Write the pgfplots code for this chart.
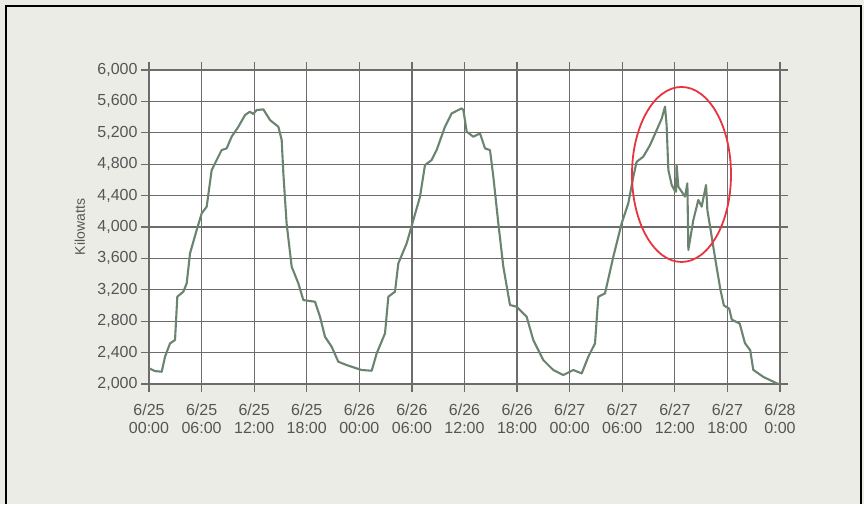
\documentclass[border=0pt]{standalone}
\usepackage{pgfplots}
\pgfplotsset{compat=1.18}
\usepackage{fontspec}
\setmainfont{Liberation Sans}
\definecolor{bg}{RGB}{236,236,231}
\definecolor{gridc}{RGB}{108,108,108}
\definecolor{linec}{RGB}{106,132,112}
\definecolor{txt}{RGB}{85,85,85}
\definecolor{circ}{RGB}{232,52,62}
\begin{document}
\begin{tikzpicture}[x=1bp,y=1bp]
\fill[bg] (0,0) rectangle (864,504);
\draw[black, line width=2.5bp] (6,0) -- (6,498) -- (861,498) -- (861,0);
\begin{axis}[at={(149bp,120bp)}, anchor=south west, scale only axis,
  width=631bp, height=314bp,
  xmin=0, xmax=72, ymin=2000, ymax=6000,
  clip mode=individual,
  xtick={0,6,...,72},
  xticklabels={{6/25\\00:00},{6/25\\06:00},{6/25\\12:00},{6/25\\18:00},{6/26\\00:00},{6/26\\06:00},{6/26\\12:00},{6/26\\18:00},{6/27\\00:00},{6/27\\06:00},{6/27\\12:00},{6/27\\18:00},{6/28\\0:00}},
  ytick={2000,2400,...,6000},
  grid=major,
  major grid style={gridc, line width=1.3bp},
  axis line style={gridc, line width=1.3bp},
  tick style={gridc, line width=1.3bp},
  tick align=outside, major tick length=8bp,
  axis background/.style={fill=white},
  xticklabel style={align=center, yshift=-8bp, font=\fontsize{16bp}{18bp}\selectfont, text=txt},
  yticklabel style={font=\fontsize{16bp}{18bp}\selectfont, text=txt},
  /pgf/number format/1000 sep={,},
  /pgf/number format/assume math mode=true,
]
\addplot[linec, line width=2.1bp, line join=round] coordinates {
(0,2200) (0.68,2165) (1.45,2156) (1.83,2348) (2.4,2517) (2.97,2560) (3.23,3112) (3.92,3176)
(4.3,3282) (4.68,3664) (5.44,3961) (6.01,4173) (6.58,4258) (7.15,4725) (7.53,4810) (8.29,4980)
(8.86,5001) (9.43,5150) (10.2,5277) (10.96,5426) (11.5,5468) (11.9,5440) (12.28,5490) (13.05,5498)
(13.81,5362) (14.76,5277) (15.14,5107) (15.33,4683) (15.7,4046) (16.28,3494) (17.04,3282)
(17.61,3069) (18.94,3048) (19.51,2857) (20.08,2602) (20.84,2475) (21.6,2284) (22.55,2241)
(23.69,2199) (24.27,2178) (25.41,2169) (25.98,2390) (26.93,2645) (27.31,3112) (28.07,3176)
(28.45,3537) (29.4,3791) (30.16,4088) (30.92,4385) (31.49,4789) (32.25,4853) (32.82,4980)
(33.77,5277) (34.53,5447) (35.67,5511) (35.87,5490) (36.25,5214) (37.01,5150) (37.77,5192)
(38.34,5001) (38.91,4980) (39.29,4640) (39.86,4046) (40.43,3494) (41.19,3006) (41.95,2984)
(43.09,2857) (43.85,2560) (44.99,2305) (46.13,2178) (47.27,2114) (48.42,2178) (49.37,2135)
(50.13,2348) (50.89,2517) (51.27,3112) (52.03,3154) (52.98,3621) (53.93,4046) (54.69,4301)
(55.26,4640) (55.64,4830) (56.4,4896) (57.17,5044) (58.1,5278) (58.5,5380) (58.88,5533)
(59.06,5300) (59.26,4726) (59.64,4535) (60.0,4460) (60.13,4450) (60.2,4790) (60.4,4513)
(61.16,4386) (61.43,4556) (61.54,3707) (62.11,4089) (62.68,4344) (63.06,4259) (63.56,4535)
(63.71,4216) (64.1,3950) (64.6,3600) (65.2,3200) (65.6,3000) (66.2,2960) (66.5,2820)
(67.4,2770) (68.0,2520) (68.6,2430) (68.95,2180) (70.1,2090) (71.6,2010) (72,1995)
};
\draw[circ, line width=1.8bp] (axis cs:60.76,4669) ellipse [x radius=49.5bp, y radius=87.5bp];
\node[rotate=90, font=\fontsize{14bp}{16bp}\selectfont, text=txt] at (rel axis cs:-0.1094,0.5) {Kilowatts};
\end{axis}
\end{tikzpicture}
\end{document}
